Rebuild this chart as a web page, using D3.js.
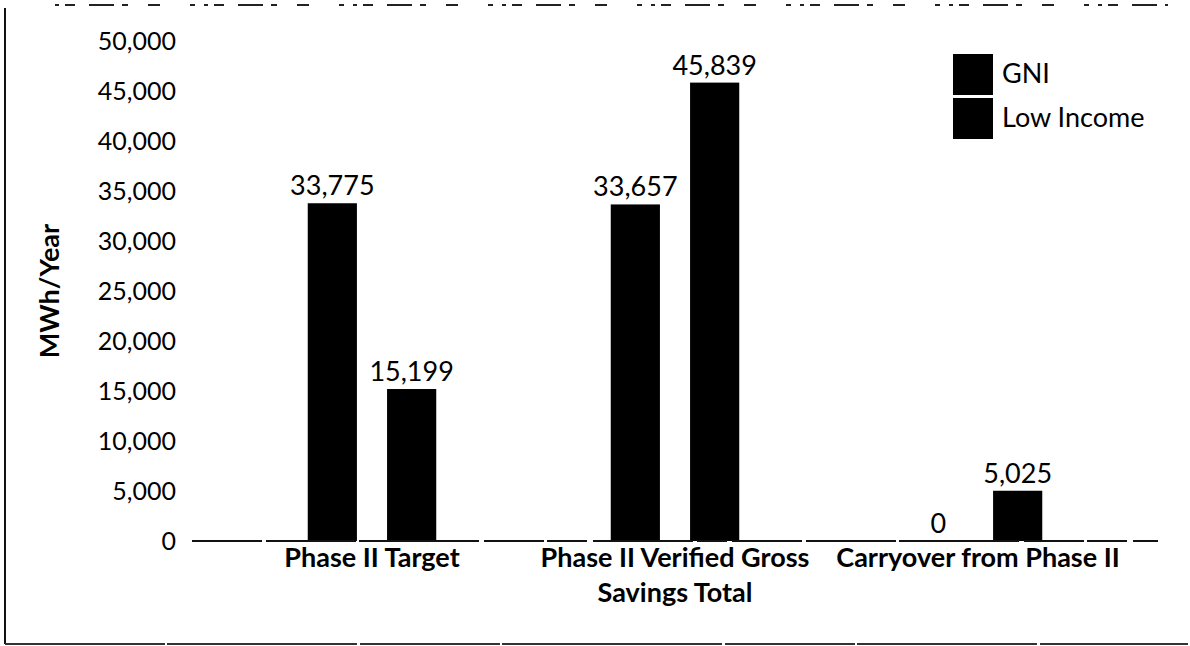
<!DOCTYPE html>
<html>
<head>
<meta charset="utf-8">
<script src="https://cdn.jsdelivr.net/npm/d3@7"></script>
<style>
    body { margin: 0; background: #ffffff; }
    svg { display: block; }
    text { font-family: Lato, "Open Sans", sans-serif; fill: #000; }
    .tick-label { font-size: 25px; }
    .cat-label { font-size: 27px; font-weight: bold; }
    .value-label { font-size: 27px; }
    .legend-label { font-size: 27px; }
    .y-title { font-size: 27px; font-weight: bold; }
</style>
</head>
<body>
<div id="chart"></div>
<script>
// chart data
const categories = ["Phase II Target", "Phase II Verified Gross\nSavings Total", "Carryover from Phase II"];
const seriesNames = ["GNI", "Low Income"];
const gniValues = [33775, 33657, 0];
const lowIncomeValues = [15199, 45839, 5025];
const yTickValues = [0, 5000, 10000, 15000, 20000, 25000, 30000, 35000, 40000, 45000, 50000];

const WIDTH = 1190;
const HEIGHT = 646;
const PLOT_LEFT = 192;
const PLOT_RIGHT = 1158;
const PLOT_TOP = 41;
const PLOT_BOTTOM = 541;
const BAR_COLOR = "#000000";

const svg = d3.select("#chart")
    .append("svg")
    .attr("width", WIDTH)
    .attr("height", HEIGHT);

// scanned frame around the chart
svg.append("line")
    .attr("x1", 5).attr("x2", 5)
    .attr("y1", 8).attr("y2", 644)
    .attr("stroke", "#111").attr("stroke-width", 2);
svg.append("line")
    .attr("x1", 5).attr("x2", 1188)
    .attr("y1", 644).attr("y2", 644)
    .attr("stroke", "#333").attr("stroke-width", 2)
    .attr("stroke-dasharray", "160,2,190,3,140,2,220,3,130,2,180,3");
svg.append("line")
    .attr("x1", 55).attr("x2", 1168)
    .attr("y1", 5).attr("y2", 5)
    .attr("stroke", "#222").attr("stroke-width", 2)
    .attr("stroke-dasharray", "4,6,10,14,25,8,6,20,12,30,5,9");

const x = d3.scaleBand()
    .domain(categories)
    .range([PLOT_LEFT, PLOT_RIGHT])
    .paddingInner(0)
    .paddingOuter(0.094);

const xSub = d3.scaleBand()
    .domain(seriesNames)
    .range([0, x.bandwidth()])
    .paddingInner(0.38)
    .paddingOuter(1.1);

const y = d3.scaleLinear()
    .domain([0, 50000])
    .range([PLOT_BOTTOM, PLOT_TOP]);

const color = d3.scaleOrdinal()
    .domain(seriesNames)
    .range([BAR_COLOR, BAR_COLOR]);

// y axis
const yAxis = svg.append("g")
    .attr("transform", `translate(${PLOT_LEFT},0)`)
    .call(d3.axisLeft(y).tickValues(yTickValues).tickSize(0).tickPadding(16).tickFormat(d3.format(",")));
yAxis.select(".domain").remove();
yAxis.selectAll("text")
    .attr("class", "tick-label")
    .attr("font-family", null)
    .attr("font-size", null);

svg.append("text")
    .attr("class", "y-title")
    .attr("text-anchor", "middle")
    .attr("transform", `translate(59,${(PLOT_TOP + PLOT_BOTTOM) / 2}) rotate(-90)`)
    .text("MWh/Year");

// bars
const rows = categories.map((c, i) => ({ category: c, values: [gniValues[i], lowIncomeValues[i]] }));

const groups = svg.selectAll("g.group")
    .data(rows)
    .enter()
    .append("g")
    .attr("class", "group")
    .attr("transform", d => `translate(${x(d.category)},0)`);

const cells = groups.selectAll("g.cell")
    .data(d => seriesNames.map((s, j) => ({ series: s, value: d.values[j] })))
    .enter()
    .append("g")
    .attr("class", "cell");

cells.append("rect")
    .attr("x", d => xSub(d.series))
    .attr("y", d => y(d.value))
    .attr("width", xSub.bandwidth())
    .attr("height", d => y(0) - y(d.value))
    .attr("fill", d => color(d.series));

cells.append("text")
    .attr("class", "value-label")
    .attr("text-anchor", "middle")
    .attr("x", d => xSub(d.series) + xSub.bandwidth() / 2)
    .attr("y", d => y(d.value) - 8)
    .text(d => d3.format(",")(d.value));

// x axis line, slightly broken like the scan
svg.append("line")
    .attr("x1", PLOT_LEFT).attr("x2", PLOT_RIGHT)
    .attr("y1", y(0)).attr("y2", y(0))
    .attr("stroke", "#111").attr("stroke-width", 2)
    .attr("stroke-dasharray", "70,4,90,3,120,5,60,3,40,6,100,4,30,5");

const xAxis = svg.append("g")
    .attr("transform", `translate(0,${y(0)})`)
    .call(d3.axisBottom(x).tickSize(0).tickFormat(""));
xAxis.select(".domain").remove();

xAxis.selectAll(".tick").each(function (d) {
    const label = d3.select(this).append("text")
        .attr("class", "cat-label")
        .attr("text-anchor", "middle")
        .attr("y", 26);
    d.split("\n").forEach((line, i) => {
        label.append("tspan")
            .attr("x", 0)
            .attr("dy", i === 0 ? 0 : 35)
            .text(line);
    });
});

// legend
const legend = svg.append("g")
    .attr("transform", "translate(953,54)");

seriesNames.forEach((name, i) => {
    legend.append("rect")
        .attr("x", 0)
        .attr("y", i * 44)
        .attr("width", 40)
        .attr("height", 41)
        .attr("fill", color(name));
    legend.append("text")
        .attr("class", "legend-label")
        .attr("x", 49)
        .attr("y", i * 44 + 20)
        .attr("dy", "0.35em")
        .text(name);
});
</script>
</body>
</html>
